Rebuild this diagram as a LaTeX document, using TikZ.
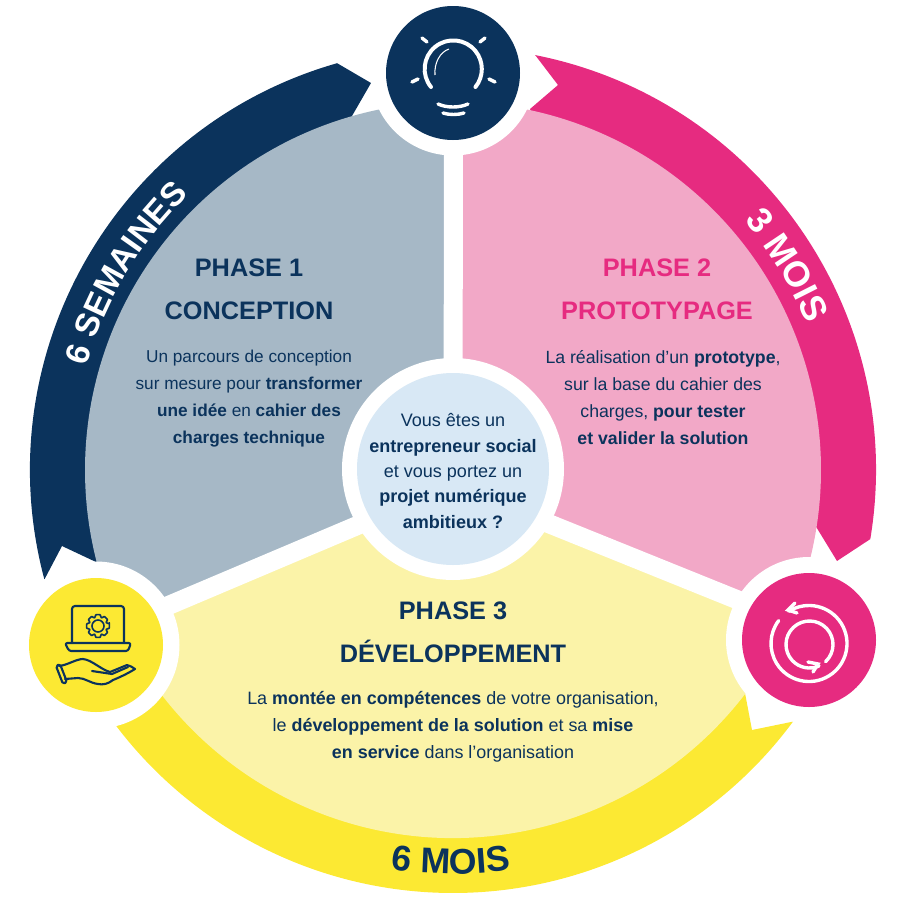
\documentclass[tikz,border=0pt]{standalone}
\usepackage{fontspec}
\setmainfont{Liberation Sans}
\usetikzlibrary{decorations.text}

\definecolor{navyband}{HTML}{0B335C}
\definecolor{navypale}{HTML}{A6B8C6}
\definecolor{pinkband}{HTML}{E62B80}
\definecolor{pinkpale}{HTML}{F2A8C7}
\definecolor{yellowband}{HTML}{FCE933}
\definecolor{yellowpale}{HTML}{FBF3A8}
\definecolor{centrefill}{HTML}{D8E8F5}

\newcommand{\bandfont}{\fontsize{28.5}{31}\selectfont\bfseries}
\newcommand{\moisfont}{\fontsize{30.5}{31}\selectfont\bfseries}

\tikzset{
  gapline/.style={white, line width=16.2pt},
  ringdisc/.style={fill=white},
  titletext/.style={inner sep=0pt, align=center, text=navyband, font=\fontsize{21.6}{36.7}\selectfont\bfseries},
  bodytext/.style={inner sep=0pt, align=center, text=navyband, font=\fontsize{14.7}{23.2}\selectfont},
  widetext/.style={bodytext, font=\fontsize{15.3}{23.2}\selectfont},
  centretext/.style={inner sep=0pt, align=center, text=navyband, font=\fontsize{15.4}{21.7}\selectfont},
  whitestroke/.style={white, line width=2.9pt, line cap=round},
  navystroke/.style={navyband, line width=1.8pt, line cap=round, line join=round},
}

\begin{document}
\begin{tikzpicture}[x=0.03cm, y=-0.03cm]

\useasboundingbox (0,0) rectangle (910,921);

% Define coordinates
\coordinate (O) at (453,470); % Centre of the wheel
\coordinate (J) at (453,485); % Where the white gaps meet
\coordinate (C) at (453,469); % Centre of the question disc
\coordinate (Bulb) at (453,73);
\coordinate (Loop) at (809,640);
\coordinate (Hand) at (96,645);

% Draw outer bands
\fill[navyband] ([shift={(165:423)}]O) arc (165:254.1:423) -- (371,83) -- (352,116) -- (453,300) -- (96,562) -- (62,546) -- cycle;
\fill[pinkband] ([shift={(281.2:423)}]O) arc (281.2:369.4:423) -- (837,561) -- (815,525) -- (650,400) -- (530,109) -- (558,85) -- cycle;
\fill[yellowband] ([shift={(36.5:423)}]O) arc (36.5:150:423) -- (300,650) -- (745,693) -- (752,730) -- cycle;

% Draw pale sectors
\fill[navypale] (J) -- ([shift={(155:368)}]O) arc (155:270:368) -- cycle;
\fill[pinkpale] (J) -- ([shift={(270:368)}]O) arc (270:384:368) -- cycle;
\fill[yellowpale] (J) -- ([shift={(24:368)}]O) arc (24:155:368) -- cycle;

% Draw white gaps
\draw[gapline] (J) -- (453.5,100);
\draw[gapline] (J) -- (120,626);
\draw[gapline] (J) -- (790,621);

% Draw rings and discs
\fill[ringdisc] (Bulb) circle (82.5);
\fill[ringdisc] (Loop) circle (83);
\fill[ringdisc] (Hand) circle (83.5);
\fill[ringdisc] (C) circle (111);
\fill[navyband] (Bulb) circle (67);
\fill[pinkband] (Loop) circle (67);
\fill[yellowband] (Hand) circle (67);
\fill[centrefill] (C) circle (96);

% Bulb icon
\draw[whitestroke, line width=3.4pt] (431,87) arc (141:399:28.6);
\draw[white, line width=0.9pt] (449,49) .. controls (440,52) and (434,63) .. (435,75);
\draw[whitestroke] (438,104) .. controls (447,108) and (459,108) .. (468,104);
\draw[whitestroke] (443,113) .. controls (449,115) and (458,115) .. (464,113);
\draw[whitestroke] (422,38) -- (427,42);
\draw[whitestroke] (480,42) -- (485,38);
\draw[whitestroke] (412,82) -- (418,79);
\draw[whitestroke] (489,79) -- (495,82);

% Loop icon
\draw[whitestroke] ([shift={(238:38)}]809,643.5) arc (238:577:38);
\draw[whitestroke] ([shift={(46.8:23.5)}]809.5,644.5) arc (46.8:-293.6:23.5);
\draw[whitestroke] (795,603) -- (788,610) -- (797,613);
\draw[whitestroke] (808,662) -- (818,664) -- (813,672);

% Laptop and hand icon
\draw[navystroke, rounded corners=2.5pt] (72,643) -- (72,606) -- (124,606) -- (124,643);
\draw[navystroke, rounded corners=2pt] (65,643) -- (131,643) -- (128,651) -- (69,651) -- cycle;
\coordinate (Gear) at (98,626);
\draw[navystroke, line width=1.4pt, rounded corners=0.6pt] ([shift={(-12:11.6)}]Gear)
  \foreach \a in {0,45,...,315} { -- ([shift={({\a-12}:11.6)}]Gear) -- ([shift={({\a+12}:11.6)}]Gear) -- ([shift={({\a+19}:9)}]Gear) -- ([shift={({\a+26}:9)}]Gear) } -- cycle;
\draw[navystroke, line width=1.4pt] (Gear) circle (6);
\draw[navystroke, rounded corners=1.5pt] (56,666) -- (60,664) -- (67,682) -- (63,684) -- cycle;
\draw[navystroke] (59,666) .. controls (68,665) and (76,659) .. (83,659) .. controls (92,660) and (100,669) .. (110,672)
  -- (127,665) .. controls (130,666) and (133,667) .. (135,669) .. controls (127,674) and (118,678) .. (113,680)
  .. controls (108,684) and (103,685) .. (98,684) .. controls (90,683) and (85,678) .. (78,678) -- (65,679);
\draw[navystroke] (92,671) -- (112,674) -- (128,667);

% Band labels
\path[decorate, decoration={text along path, text align=center, text={|\bandfont\color{white}|6 SEMAINES}}]
  ([shift={(181:381)}]O) arc (181:241:381);
\path[decorate, decoration={text along path, text align=center, text={|\moisfont\color{white}|3 MOIS}}]
  ([shift={(298.5:383)}]O) arc (298.5:358.5:383);
\path[decorate, decoration={text along path, text align=center, text={|\moisfont\color{navyband}|6 MOIS}}]
  ([shift={(120.3:404)}]O) arc (120.3:60.3:404);

% Phase texts
\node[titletext] (conceptiontitle) at (249,289.5) {PHASE 1\\CONCEPTION};
\node[bodytext] (conceptionbody) at (249,398.5) {Un parcours de conception\\sur mesure pour \textbf{transformer}\\\textbf{une idée} en \textbf{cahier des}\\\textbf{charges technique}};
\node[titletext, text=pinkband] (prototitle) at (657,289.5) {PHASE 2\\PROTOTYPAGE};
\node[bodytext, font=\fontsize{15.1}{23.2}\selectfont] (protobody) at (663,397.5) {La réalisation d’un \textbf{prototype},\\sur la base du cahier des\\charges, \textbf{pour tester}\\\textbf{et valider la solution}};
\node[titletext] (devtitle) at (453,632.5) {PHASE 3\\DÉVELOPPEMENT};
\node[widetext] (devbody) at (453,727) {La \textbf{montée en compétences} de votre organisation,\\le \textbf{développement de la solution} et sa \textbf{mise}\\\textbf{en service} dans l’organisation};
\node[centretext] (question) at (453,471) {Vous êtes un\\\textbf{entrepreneur social}\\et vous portez un\\\textbf{projet numérique}\\\textbf{ambitieux ?}};

\end{tikzpicture}
\end{document}
